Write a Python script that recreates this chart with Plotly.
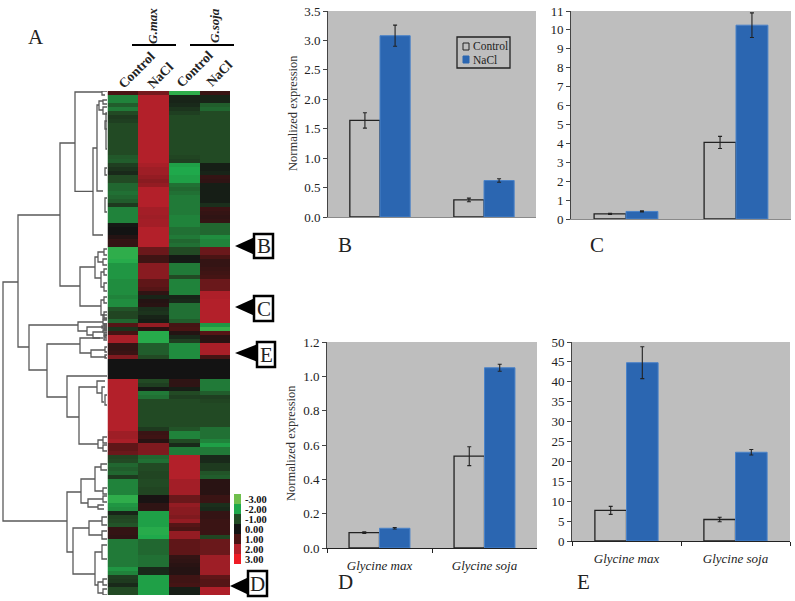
import plotly.graph_objects as go

W, H = 795, 601
SERIF = "Liberation Serif"

# heatmap values, one row per gene, top to bottom
gmax_control = [
    1.0, -1.6, -1.6, -1.2, -1.5, -1.0, -0.7, -0.8, -1.0, -1.0,
    -1.0, -1.0, -1.0, -1.0, -1.0, -1.0, -1.15, -1.2, -0.8, -0.6,
    -0.4, -1.0, -1.0, -1.3, -1.3, -1.4, -1.3, -1.2, -0.7, -1.6,
    -1.6, -1.6, -1.6, -0.1, 0, 0, 0.3, 0.6, 0.6, -2.2,
    -2.2, -2.2, -2.1, -1.8, -1.8, -1.8, -1.8, -1.7, -1.7, -1.7,
    -1.7, -1.6, -1.7, -1.7, -1.1, -0.9, -0.9, -1.3, 1.1, -0.6,
    0.9, 1.9, 1.9, 0.6, 0.6, 0.7, 1.5, 0, 0, 0,
    0, 0, 2, 2, 2, 2, 2, 2, 2, 2,
    2, 2, 2, 2, 2, 1.8, 1.8, 1.9, 1.2, 1.2,
    1.3, -0.9, -1.0, -1.3, -1.2, -1.3, -0.7, -1.6, -1.6, -1.6,
    -1.6, -2.2, -2.2, -1.8, -1.7, -0.3, -0.9, -1.0, -1.1, 0.6,
    0.6, 0.5, -1.5, -1.5, -1.5, -1.5, -1.5, -1.5, -1.5, -1.8,
    -1.6, -0.8, -0.7, -0.4, -1.0, -1.0,
]
gmax_nacl = [
    1.4, 2, 2, 2, 2, 2, 2, 2, 2, 2,
    2, 2, 2, 2, 2, 2, 2, 2, 1.9, 1.8,
    1.8, 1.7, 1.6, 1.7, 2, 2, 2, 2, 2, 1.85,
    1.85, 1.8, 1.85, 1.85, 2, 2, 2, 2, 2, 1.3,
    1.3, 0.8, 0.8, 1.6, 1.6, 1.6, 1.6, 1.2, 1.2, 1.1,
    0.5, -0.3, 0.3, 0.4, -0.5, -0.6, -0.3, -0.2, 1.7, 0.4,
    -2.1, -2.1, -2.1, -1.2, -1.2, -1.2, -1.0, 0, 0, 0,
    0, 0, -1.0, -0.8, -0.1, -1.5, -1.4, -1, -1, -1,
    -1, -1, -1, -1, -0.7, 0.7, 0.8, 0.4, 1.5, 1.5,
    1.5, -1.3, -1.4, -1, -1, -0.9, -0.9, -1.0, -1, -0.9,
    -0.9, 0.1, 0.1, 0.5, 0.5, -1.9, -1.9, -1.9, -1.9, -2.1,
    -2.1, -2.0, -1.3, -1.3, -1.3, -1.3, -1.4, -1.4, -1.4, -0.4,
    -0.4, -1.9, -1.9, -1.9, -1.9, -1.9,
]
gsoja_control = [
    -2.2, -0.3, -0.3, -0.4, -0.6, -0.8, -1, -1, -1, -1,
    -1, -1, -1, -1, -1, -1, -0.9, -0.8, -1.9, -2.0,
    -2.0, -1.9, -1.9, -1.4, -1.3, -1.4, -1.5, -1.5, -1.5, -1.5,
    -1.5, -1.6, -1.6, -1.6, -1.4, -1.4, -1.5, -1.3, -1.4, -1.0,
    -1.0, -0.1, -0.1, -1.5, -1.5, -1.5, -1.0, -1.6, -1.6, -1.6,
    -1.6, -0.3, -0.4, -1.4, -1.4, -1.4, -1.4, -1.2, 0.9, 1.0,
    0.3, -0.4, -0.8, -1.7, -1.7, -1.7, -1.7, 0, 0, 0,
    0, 0, 0.5, 0.5, -0.2, -1, -0.8, -1, -1, -1,
    -1, -1, -1, -1, -1.1, -1.6, -1.6, -1.0, -0.4, -1.5,
    -1.5, 2, 2, 2, 2, 2, 2, 1.85, 1.85, 1.85,
    1.85, 1.3, 1.3, 1.7, 1.6, 1.6, 1.5, 1.7, 1.1, 1.0,
    1.7, 1.7, 1.2, 1.2, 1.2, 1.2, 0.6, 0.5, 0.4, 0.3,
    0.3, 0.8, 0.8, 0.9, -0.2, -0.2,
]
gsoja_nacl = [
    0.7, -0.3, -0.3, -1.2, -1.3, -1.0, -1, -1, -1, -1,
    -1, -1, -1, -1, -1, -1, -1, -1, -0.2, -0.2,
    -0.3, 0.6, 0.5, -0.2, -0.2, -0.2, -0.2, -0.2, -0.5, 0.7,
    0.6, 0.5, 0.6, -1.3, -1.3, -1.3, -1.7, -1.6, -1.6, 1.3,
    1.3, 1.0, 0.6, 0.6, 0.7, 0.8, 0.9, 1.3, 1.3, 1.3,
    1.95, 1.95, 2, 2, 2, 2, 2, 2, -1.8, -2.3,
    1.1, 0.4, 0.4, 1.9, 1.9, 1.9, 0.9, 0, 0, 0,
    0, 0, -1.5, -1.5, -1.5, -1.2, -0.8, -0.9, -1, -1,
    -1, -1, -1, -1, -1.4, -1.4, -1.4, -1.6, -1.9, -1.5,
    -1.5, -0.4, -0.4, -0.7, -0.7, -1.1, -1.2, 0.4, 0.4, 0.4,
    0.4, 0.7, 0.7, -0.5, -0.4, 0.6, 0.6, 0.7, 0.7, 0.7,
    0.7, -0.9, 1.3, 1.3, 1.3, 1.3, 1.8, 1.8, 1.8, 1.8,
    1.8, 1.2, 1.1, 1.1, 1.95, 1.95,
]
heat_columns = ["Control1", "NaCl1", "Control2", "NaCl2"]
scale_labels = ["-3.00", "-2.00", "-1.00", "0.00", "1.00", "2.00", "3.00"]
scale_values = [-3, -2, -1, 0, 1, 2, 3]

# dendrogram merges: height of the merge, rows it joins, heights of the two children
dend_height = [3, 18, 60, 75, 93, 97, 80, 95, 98, 101, 101, 29, 47, 78, 87, 93, 80, 91,
               67, 79, 97, 102, 98, 67, 81, 95, 88, 98, 73, 89, 95, 98, 102,
               99, 103, 103, 105, 105, 104, 103, 104, 104, 104, 104, 103, 104, 105,
               105, 103, 103, 101, 103, 103, 102, 102, 102, 103, 103,
               106, 105, 103, 104, 102, 104, 103, 104, 105, 105]
dend_top = [47.25, 30.5, 12.5, -0.25, 13.75, 3, 43.5, 41, 39.75, 44.75, 51.75, 58, 62.75, 57.25, 58.5, 59.75, 61.25, 64.25,
            70.75, 73.5, 72, 73.5, 86.75, 99.75, 96.5, 93.5, 101.5, 103, 108.75, 107, 114.75, 122.25, -0.5,
            2, 1.75, 3.5, 18.75, 26.25, 39, 41.5, 44, 47.5, 51, 54.75, 56.75, 60.75, 63.5,
            75.5, 86, 88, 92.75, 98.75, 100.75, 106, 109.5, 113, 121.5, 124,
            5, 7, 55.5, 57.75, 58.25, 58.75, 59.25, 60, 60.5, 65.5]
dend_bot = [107, 63.5, 48.25, 24.6, 35.5, 24.5, 53.25, 46.25, 42.25, 48.5, 55.5, 69.25, 76, 59.5, 60.5, 61.25, 65, 66,
            81, 87.75, 75, 77.25, 88.75, 114.75, 102.5, 99.5, 103.5, 104, 120.25, 110.5, 123, 125, 0.5,
            4.25, 2.75, 5.25, 20.5, 29.75, 40.5, 43, 45.5, 49.5, 52.5, 56.25, 57.75, 61.75, 64.75,
            78, 87.5, 89.5, 94.25, 100.25, 102.25, 108, 111.5, 116.5, 123, 125.5,
            14, 9, 56.5, 58.25, 58.75, 59.25, 59.75, 60.5, 61.25, 66.25]
dend_top_child = [18, 60, 75, 102, 97, 99, 95, 98, 104, 104, 104, 78, 80, 103, 103, 103, 103, 105,
                  107, 97, 105, 105, 103, 81, 95, 101, 103, 104, 89, 102, 102, 103, 107,
                  103, 107, 107, 107, 107, 107, 107, 107, 107, 107, 107, 107, 107, 107,
                  107, 107, 107, 107, 107, 107, 107, 107, 107, 107, 107,
                  107, 107, 107, 107, 107, 107, 107, 107, 107, 107]
dend_bot_child = [67, 29, 80, 93, 103, 103, 101, 101, 103, 104, 104, 47, 67, 87, 93, 100, 91, 106,
                  79, 98, 102, 104, 103, 73, 88, 103, 98, 104, 95, 102, 98, 103, 105,
                  103, 107, 107, 107, 107, 107, 107, 107, 107, 107, 107, 107, 107, 107,
                  107, 107, 107, 107, 107, 107, 107, 107, 107, 107, 107,
                  107, 107, 107, 107, 107, 107, 107, 107, 107, 107]

# bar panels
species = ["Glycine max", "Glycine soja"]
b_control, b_nacl = [1.64, 0.29], [3.08, 0.62]
b_control_err, b_nacl_err = [0.13, 0.03], [0.18, 0.03]
c_control, c_nacl = [0.27, 4.05], [0.4, 10.25]
c_control_err, c_nacl_err = [0.03, 0.32], [0.03, 0.65]
d_control, d_nacl = [0.09, 0.535], [0.115, 1.05]
d_control_err, d_nacl_err = [0.005, 0.055], [0.004, 0.02]
e_control, e_nacl = [7.7, 5.4], [44.8, 22.3]
e_control_err, e_nacl_err = [1.0, 0.55], [4.0, 0.7]


def px_x(x):
    return x / W


def px_y(y):
    return 1 - y / H


def dom_x(a, b):
    return [px_x(a), px_x(b)]


def dom_y(top, bottom):
    return [px_y(bottom), px_y(top)]


fig = go.Figure()

annotations = []
shapes = []

colorscale = [
    [0.0, "#6fbf4c"], [1 / 6, "#1fa94b"], [2 / 6, "#224a24"], [0.5, "#131313"],
    [4 / 6, "#4a1414"], [5 / 6, "#b3202a"], [1.0, "#ee1c25"],
]

heat_z = [list(row) for row in zip(gmax_control, gmax_nacl, gsoja_control, gsoja_nacl)]
fig.add_trace(go.Heatmap(z=heat_z, x=heat_columns, y=list(range(len(heat_z))),
                         zmin=-3, zmax=3, colorscale=colorscale, showscale=False,
                         xaxis="x", yaxis="y"))
fig.update_layout(
    xaxis=dict(domain=dom_x(107.5, 230), visible=False, anchor="y"),
    yaxis=dict(domain=dom_y(91, 595), visible=False, range=[125.5, -0.5], anchor="x"),
)

# dendrogram shares the rows of the heatmap
xs, ys = [], []
for h, t, b, tc, bc in zip(dend_height, dend_top, dend_bot, dend_top_child, dend_bot_child):
    xs += [tc, h, h, bc, None]
    ys += [t, t, b, b, None]
fig.add_trace(go.Scatter(x=xs, y=ys, mode="lines", line=dict(color="#5a5a5a", width=1.3),
                         xaxis="x2", yaxis="y", hoverinfo="skip"))
fig.update_layout(xaxis2=dict(domain=dom_x(0, 107.5), range=[0, 107.5], visible=False, anchor="y"))

# colour key
fig.add_trace(go.Heatmap(z=[[v] for v in scale_values], y=scale_labels, zmin=-3, zmax=3,
                         colorscale=colorscale, showscale=False, xaxis="x3", yaxis="y3"))
fig.update_layout(
    xaxis3=dict(domain=dom_x(234, 241), visible=False, anchor="y3"),
    yaxis3=dict(domain=dom_y(494, 564), type="category", autorange="reversed", anchor="x3",
                side="right", showline=False, showgrid=False, zeroline=False, ticks="",
                tickmode="array", tickvals=scale_labels, ticktext=scale_labels,
                ticklabelstandoff=3,
                tickfont=dict(family=SERIF, size=10.5, color="#111", weight="bold")),
)


def add_panel(n, control, nacl, control_err, nacl_err, box, ymax, dtick, fmt, labels):
    xname, yname = f"x{n}", f"y{n}"
    err_style = dict(type="data", color="#222", thickness=1.1, width=2)
    fig.add_trace(go.Bar(x=species, y=control, name="Control",
                         marker=dict(color="rgba(0,0,0,0)", line=dict(color="#222", width=1.3)),
                         error_y=dict(array=control_err, **err_style),
                         xaxis=xname, yaxis=yname))
    fig.add_trace(go.Bar(x=species, y=nacl, name="NaCl",
                         marker=dict(color="#2b66b1", line=dict(color="#4a82c8", width=1)),
                         error_y=dict(array=nacl_err, **err_style),
                         xaxis=xname, yaxis=yname))
    left, right, top, bottom = box
    # grey plot area, only for the bar panels
    shapes.append(dict(type="rect", xref="paper", yref="paper", layer="below", line_width=0,
                       fillcolor="#bebebe", x0=px_x(left), x1=px_x(right), y0=px_y(top), y1=px_y(bottom)))
    fig.update_layout({
        f"xaxis{n}": dict(domain=dom_x(left, right), anchor=yname, type="category",
                          showline=True, linecolor="#222" if labels else "#8a8a8a", linewidth=1.2,
                          showticklabels=labels, ticks="outside" if labels else "",
                          tickson="boundaries", ticklen=4, tickcolor="#222",
                          ticklabelstandoff=5,
                          tickfont=dict(family=SERIF, size=13, color="#222", style="italic"),
                          showgrid=False),
        f"yaxis{n}": dict(domain=dom_y(top, bottom), anchor=xname, range=[0, ymax], dtick=dtick,
                          tickformat=fmt, showline=True, linecolor="#444", linewidth=1,
                          ticks="outside", ticklen=4, tickcolor="#444", showgrid=False,
                          zeroline=False, tickfont=dict(family=SERIF, size=13, color="#222")),
    })


add_panel(4, b_control, b_nacl, b_control_err, b_nacl_err, (328, 536, 11, 217), 3.5, 0.5, ".1f", False)
add_panel(5, c_control, c_nacl, c_control_err, c_nacl_err, (571, 791, 11, 219), 11, 1, "d", False)
add_panel(6, d_control, d_nacl, d_control_err, d_nacl_err, (327, 537, 342, 548), 1.2, 0.2, ".1f", True)
add_panel(7, e_control, e_nacl, e_control_err, e_nacl_err, (572, 790, 342, 541), 50, 5, "d", True)


def text(x, y, s, size=13, angle=0, color="#222", xanchor="center", **font):
    annotations.append(dict(x=px_x(x), y=px_y(y), xref="paper", yref="paper", text=s, showarrow=False,
                            textangle=angle, xanchor=xanchor, yanchor="middle",
                            font=dict(family=SERIF, size=size, color=color, **font)))


def marker_box(tip, base, y, half, left, right, top, bottom, letter):
    shapes.append(dict(type="path", xref="paper", yref="paper", fillcolor="black", line_width=0,
                       path=f"M {px_x(tip)},{px_y(y)} L {px_x(base + 2)},{px_y(y - half)} "
                            f"L {px_x(base + 2)},{px_y(y + half)} Z"))
    shapes.append(dict(type="rect", xref="paper", yref="paper", fillcolor="white",
                       line=dict(color="black", width=2.5),
                       x0=px_x(left), x1=px_x(right), y0=px_y(top), y1=px_y(bottom)))
    text((left + right) / 2, (top + bottom) / 2, letter, size=21, color="#222")


marker_box(235, 253, 246, 9, 254, 273, 234, 258, "B")
marker_box(235, 253, 307, 9, 254, 273, 296, 321, "C")
marker_box(235, 256, 353, 9, 257, 275, 342, 367, "E")
marker_box(230, 247, 586, 9, 248, 267, 571, 596, "D")

# group headers above the heatmap
text(153, 26, "G.max", size=13, angle=-90, style="italic", weight="bold")
text(215, 26, "G.soja", size=13, angle=-90, style="italic", weight="bold")
for x0, x1 in [(132, 176), (190, 234)]:
    shapes.append(dict(type="line", xref="paper", yref="paper", x0=px_x(x0), x1=px_x(x1),
                       y0=px_y(45), y1=px_y(45), line=dict(color="black", width=2)))
text(136, 70, "Control", size=13.5, angle=-45, weight="bold")
text(160, 75, "NaCl", size=13.5, angle=-45, weight="bold")
text(194, 69, "Control", size=13.5, angle=-45, weight="bold")
text(219, 73, "NaCl", size=13.5, angle=-45, weight="bold")

# panel letters
text(36, 37, "A", size=21)
text(345, 245, "B", size=21)
text(597, 245, "C", size=21)
text(345, 582, "D", size=21)
text(583, 582, "E", size=21)

text(293, 113, "Normalized expression", size=12.5, angle=-90, color="#333")
text(291, 443, "Normalized expression", size=12.5, angle=-90, color="#333")

# hand-made legend in panel B
shapes.append(dict(type="rect", xref="paper", yref="paper", x0=px_x(457), x1=px_x(510), y0=px_y(37), y1=px_y(68),
                   line=dict(color="#222", width=1.3), fillcolor="rgba(0,0,0,0)"))
shapes.append(dict(type="rect", xref="paper", yref="paper", x0=px_x(463), x1=px_x(469), y0=px_y(43), y1=px_y(50),
                   line=dict(color="#222", width=1), fillcolor="rgba(0,0,0,0)"))
shapes.append(dict(type="rect", xref="paper", yref="paper", x0=px_x(463), x1=px_x(469), y0=px_y(56), y1=px_y(63),
                   line=dict(color="#2b66b1", width=1), fillcolor="#2b66b1"))
text(471, 45.5, "Control", size=11.5, xanchor="left")
text(471, 60, "NaCl", size=11.5, xanchor="left")

fig.update_layout(
    template="none",
    width=W, height=H, margin=dict(l=0, r=0, t=0, b=0), paper_bgcolor="white",
    plot_bgcolor="rgba(0,0,0,0)", barmode="group", bargap=0.42, bargroupgap=0, showlegend=False,
    annotations=annotations, shapes=shapes,
)

fig.write_html("out.html", config={"displayModeBar": False},
               post_script="document.body.style.margin='0';")
